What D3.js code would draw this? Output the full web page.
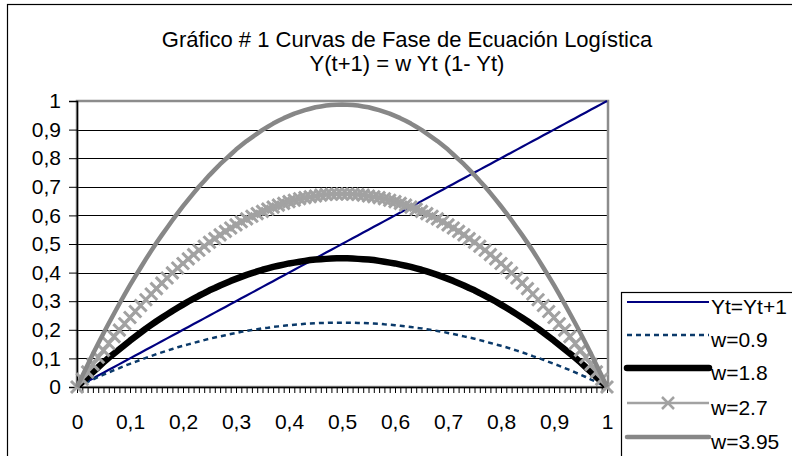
<!DOCTYPE html>
<meta charset="utf-8">
<head>
<title>Curvas de Fase de Ecuación Logística</title>
<script type="text/javascript" src="https://cdn.jsdelivr.net/npm/d3@7"></script>
<style>
    body { margin: 0; background: #fff; }
    text { font-family: "Liberation Sans", Arial, sans-serif; fill: #000; }
</style>
</head>

<body>
<div id="chart"></div>

<script>

    // categories on the x axis: Yt from 0 to 1, step 0.01
    var yt = [0,0.01,0.02,0.03,0.04,0.05,0.06,0.07,0.08,0.09,
              0.1,0.11,0.12,0.13,0.14,0.15,0.16,0.17,0.18,0.19,
              0.2,0.21,0.22,0.23,0.24,0.25,0.26,0.27,0.28,0.29,
              0.3,0.31,0.32,0.33,0.34,0.35,0.36,0.37,0.38,0.39,
              0.4,0.41,0.42,0.43,0.44,0.45,0.46,0.47,0.48,0.49,
              0.5,0.51,0.52,0.53,0.54,0.55,0.56,0.57,0.58,0.59,
              0.6,0.61,0.62,0.63,0.64,0.65,0.66,0.67,0.68,0.69,
              0.7,0.71,0.72,0.73,0.74,0.75,0.76,0.77,0.78,0.79,
              0.8,0.81,0.82,0.83,0.84,0.85,0.86,0.87,0.88,0.89,
              0.9,0.91,0.92,0.93,0.94,0.95,0.96,0.97,0.98,0.99,1];

    // Yt = Yt+1 (diagonal)
    var ident = yt.slice();

    var w09 = [0,.009,.018,.026,.035,.043,.051,.059,.066,.074,
               .081,.088,.095,.102,.108,.115,.121,.127,.133,.139,
               .144,.149,.154,.159,.164,.169,.173,.177,.181,.185,
               .189,.193,.196,.199,.202,.205,.207,.210,.212,.214,
               .216,.218,.219,.221,.222,.223,.224,.224,.225,.225,
               .225,
               .225,.225,.224,.224,.223,.222,.221,.219,.218,.216,
               .214,.212,.210,.207,.205,.202,.199,.196,.193,.189,
               .185,.181,.177,.173,.169,.164,.159,.154,.149,.144,
               .139,.133,.127,.121,.115,.108,.102,.095,.088,.081,
               .074,.066,.059,.051,.043,.035,.026,.018,.009,0];

    var w18 = [0,.018,.035,.052,.069,.086,.102,.117,.132,.147,
               .162,.176,.190,.204,.217,.230,.242,.254,.266,.277,
               .288,.299,.309,.319,.328,.338,.346,.355,.363,.371,
               .378,.385,.392,.398,.404,.410,.415,.420,.424,.428,
               .432,.435,.438,.441,.444,.446,.447,.448,.449,.450,
               .450,
               .450,.449,.448,.447,.446,.444,.441,.438,.435,.432,
               .428,.424,.420,.415,.410,.404,.398,.392,.385,.378,
               .371,.363,.355,.346,.338,.328,.319,.309,.299,.288,
               .277,.266,.254,.242,.230,.217,.204,.190,.176,.162,
               .147,.132,.117,.102,.086,.069,.052,.035,.018,0];

    var w27 = [0,.027,.053,.079,.104,.128,.152,.176,.199,.221,
               .243,.264,.285,.305,.325,.344,.363,.381,.399,.416,
               .432,.448,.463,.478,.492,.506,.519,.532,.544,.556,
               .567,.578,.588,.597,.606,.614,.622,.629,.636,.642,
               .648,.653,.658,.662,.665,.668,.671,.673,.674,.675,
               .675,
               .675,.674,.673,.671,.668,.665,.662,.658,.653,.648,
               .642,.636,.629,.622,.614,.606,.597,.588,.578,.567,
               .556,.544,.532,.519,.506,.492,.478,.463,.448,.432,
               .416,.399,.381,.363,.344,.325,.305,.285,.264,.243,
               .221,.199,.176,.152,.128,.104,.079,.053,.027,0];

    var w395 = [0,.039,.077,.115,.152,.188,.223,.257,.291,.324,
                .356,.387,.417,.447,.476,.504,.531,.557,.583,.608,
                .632,.655,.678,.700,.720,.741,.760,.779,.796,.813,
                .830,.845,.860,.873,.886,.899,.910,.921,.931,.940,
                .948,.956,.962,.968,.973,.978,.981,.984,.986,.987,
                .988,
                .987,.986,.984,.981,.978,.973,.968,.962,.956,.948,
                .940,.931,.921,.910,.899,.886,.873,.860,.845,.830,
                .813,.796,.779,.760,.741,.720,.700,.678,.655,.632,
                .608,.583,.557,.531,.504,.476,.447,.417,.387,.356,
                .324,.291,.257,.223,.188,.152,.115,.077,.039,0];

    // tick labels
    var yTicks = [0,0.1,0.2,0.3,0.4,0.5,0.6,0.7,0.8,0.9,1];
    var xTicks = [0,0.1,0.2,0.3,0.4,0.5,0.6,0.7,0.8,0.9,1];
    var fmt = function(d) { return String(d).replace(".", ","); };

    var titleLines = ["Gráfico # 1 Curvas de Fase de Ecuación Logística",
                      "Y(t+1) = w Yt (1- Yt)"];

    var seriesNames = ["Yt=Yt+1", "w=0.9", "w=1.8", "w=2.7", "w=3.95"];
    var seriesData  = [ident, w09, w18, w27, w395];

    // look of each series (Excel style)
    var styles = [
        {color: "#000080", width: 2.2, dash: null,  marker: false},
        {color: "#0b3a6a", width: 2.5, dash: "5,4", marker: false},
        {color: "#000000", width: 6.5, dash: null,  marker: false},
        {color: "#a2a2a2", width: 2.5, dash: null,  marker: true},
        {color: "#878787", width: 4.5, dash: null,  marker: false}
    ];

    var width = 792, height = 456;
    var plot = {left: 77, right: 607, top: 101, bottom: 387};
    var fontSize = "21px";

    var svg = d3.select("#chart")
                .append("svg")
                .attr("width", width)
                .attr("height", height);

    // chart area border
    svg.append("rect")
       .attr("x", 7.5).attr("y", 4.5)
       .attr("width", 900).attr("height", 600)
       .attr("fill", "#fff")
       .attr("stroke", "#000")
       .attr("stroke-width", 1.2);

    // title
    svg.append("g").selectAll("text")
       .data(titleLines)
       .enter()
       .append("text")
       .attr("x", 407)
       .attr("y", function(d, i) { return 47 + i * 24; })
       .attr("text-anchor", "middle")
       .style("font-size", "22px")
       .text(function(d) { return d; });

    var x = d3.scaleLinear().domain([0, 1]).range([plot.left, plot.right]);
    var y = d3.scaleLinear().domain([0, 1]).range([plot.bottom, plot.top]);

    // gridlines
    svg.append("g")
       .selectAll("line")
       .data(yTicks.filter(function(d) { return d > 0 && d < 1; }))
       .enter()
       .append("line")
       .attr("x1", plot.left).attr("x2", plot.right)
       .attr("y1", function(d) { return Math.round(y(d)) + 0.5; })
       .attr("y2", function(d) { return Math.round(y(d)) + 0.5; })
       .attr("stroke", "#000")
       .attr("stroke-width", 1);

    // plot area border (gray)
    svg.append("rect")
       .attr("x", plot.left).attr("y", y(1))
       .attr("width", plot.right - plot.left + 1)
       .attr("height", y(0) - y(1))
       .attr("fill", "none")
       .attr("stroke", "#8c8c8c")
       .attr("stroke-width", 2.5);

    // y axis
    var yAxis = d3.axisLeft(y)
                  .tickValues(yTicks)
                  .tickFormat(fmt)
                  .tickSize(8)
                  .tickPadding(8);
    var gy = svg.append("g")
                .attr("transform", "translate(" + plot.left + ",0)")
                .call(yAxis);
    gy.select(".domain").attr("stroke", "#000").attr("stroke-width", 1.5);
    gy.selectAll(".tick line").attr("stroke", "#000");
    gy.selectAll("text").style("font-size", fontSize).attr("fill", "#000");

    // x axis: a tick for every category, a label every 0.1
    var xAxis = d3.axisBottom(x)
                  .tickValues(yt)
                  .tickFormat(function(d) {
                      return xTicks.some(function(t) { return Math.abs(t - d) < 1e-9; }) ? fmt(d) : "";
                  })
                  .tickSize(6)
                  .tickPadding(21)
                  .tickSizeOuter(0);
    var gx = svg.append("g")
                .attr("transform", "translate(0," + plot.bottom + ")")
                .call(xAxis);
    gx.select(".domain").attr("stroke", "#000").attr("stroke-width", 1.5);
    gx.selectAll(".tick line").attr("stroke", "#000");
    gx.selectAll("text").style("font-size", fontSize).attr("fill", "#000");

    // series
    var line = d3.line()
                 .x(function(d, i) { return x(yt[i]); })
                 .y(function(d) { return y(d); });

    var xMark = function(cx, cy, r) {
        return "M" + (cx - r) + "," + (cy - r) + "L" + (cx + r) + "," + (cy + r) +
               "M" + (cx - r) + "," + (cy + r) + "L" + (cx + r) + "," + (cy - r);
    };

    seriesData.forEach(function(vals, s) {
        var st = styles[s];
        svg.append("path")
           .datum(vals)
           .attr("d", line)
           .attr("fill", "none")
           .attr("stroke", st.color)
           .attr("stroke-width", st.width)
           .attr("stroke-dasharray", st.dash)
           .attr("stroke-linejoin", "round");
        if (st.marker) {
            svg.append("g").selectAll("path")
               .data(vals)
               .enter()
               .append("path")
               .attr("d", function(d, i) { return xMark(x(yt[i]), y(d), 6); })
               .attr("stroke", st.color)
               .attr("stroke-width", 3)
               .attr("fill", "none");
        }
    });

    // legend
    var lg = svg.append("g");
    lg.append("rect")
      .attr("x", 621.5).attr("y", 292.5)
      .attr("width", 220).attr("height", 200)
      .attr("fill", "#fff")
      .attr("stroke", "#000")
      .attr("stroke-width", 1.2);

    var rowY = [302, 335, 368, 403, 437];
    seriesNames.forEach(function(name, s) {
        var st = styles[s];
        lg.append("line")
          .attr("x1", 627).attr("x2", 709)
          .attr("y1", rowY[s]).attr("y2", rowY[s])
          .attr("stroke", st.color)
          .attr("stroke-width", st.width)
          .attr("stroke-dasharray", st.dash)
          .attr("stroke-linecap", s == 2 || s == 4 ? "round" : "butt");
        if (st.marker) {
            lg.append("path")
              .attr("d", xMark(668, rowY[s], 6))
              .attr("stroke", st.color)
              .attr("stroke-width", 2.5);
        }
        lg.append("text")
          .attr("x", 711)
          .attr("y", rowY[s] + 12)
          .style("font-size", fontSize)
          .text(name);
    });

</script>
</body>
</html>
